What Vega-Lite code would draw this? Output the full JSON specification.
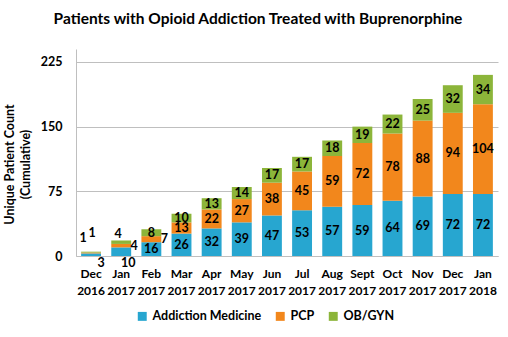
{
  "$schema": "https://vega.github.io/schema/vega-lite/v6.json",
  "width": 422,
  "height": 207,
  "autosize": "none",
  "padding": {"left": 76, "right": 10, "top": 49, "bottom": 81},
  "background": "white",
  "title": {
    "text": "Patients with Opioid Addiction Treated  with Buprenorphine",
    "font": "Lato",
    "fontSize": 15.5,
    "fontWeight": "bold",
    "color": "#000000",
    "anchor": "middle",
    "dx": -29,
    "offset": 22
  },
  "data": {
    "values": [
      {"month": "Dec 2016", "series": "Addiction Medicine", "value": 3},
      {"month": "Dec 2016", "series": "PCP", "value": 1},
      {"month": "Dec 2016", "series": "OB/GYN", "value": 1},
      {"month": "Jan 2017", "series": "Addiction Medicine", "value": 10},
      {"month": "Jan 2017", "series": "PCP", "value": 4},
      {"month": "Jan 2017", "series": "OB/GYN", "value": 4},
      {"month": "Feb 2017", "series": "Addiction Medicine", "value": 16},
      {"month": "Feb 2017", "series": "PCP", "value": 7},
      {"month": "Feb 2017", "series": "OB/GYN", "value": 8},
      {"month": "Mar 2017", "series": "Addiction Medicine", "value": 26},
      {"month": "Mar 2017", "series": "PCP", "value": 13},
      {"month": "Mar 2017", "series": "OB/GYN", "value": 10},
      {"month": "Apr 2017", "series": "Addiction Medicine", "value": 32},
      {"month": "Apr 2017", "series": "PCP", "value": 22},
      {"month": "Apr 2017", "series": "OB/GYN", "value": 13},
      {"month": "May 2017", "series": "Addiction Medicine", "value": 39},
      {"month": "May 2017", "series": "PCP", "value": 27},
      {"month": "May 2017", "series": "OB/GYN", "value": 14},
      {"month": "Jun 2017", "series": "Addiction Medicine", "value": 47},
      {"month": "Jun 2017", "series": "PCP", "value": 38},
      {"month": "Jun 2017", "series": "OB/GYN", "value": 17},
      {"month": "Jul 2017", "series": "Addiction Medicine", "value": 53},
      {"month": "Jul 2017", "series": "PCP", "value": 45},
      {"month": "Jul 2017", "series": "OB/GYN", "value": 17},
      {"month": "Aug 2017", "series": "Addiction Medicine", "value": 57},
      {"month": "Aug 2017", "series": "PCP", "value": 59},
      {"month": "Aug 2017", "series": "OB/GYN", "value": 18},
      {"month": "Sept 2017", "series": "Addiction Medicine", "value": 59},
      {"month": "Sept 2017", "series": "PCP", "value": 72},
      {"month": "Sept 2017", "series": "OB/GYN", "value": 19},
      {"month": "Oct 2017", "series": "Addiction Medicine", "value": 64},
      {"month": "Oct 2017", "series": "PCP", "value": 78},
      {"month": "Oct 2017", "series": "OB/GYN", "value": 22},
      {"month": "Nov 2017", "series": "Addiction Medicine", "value": 69},
      {"month": "Nov 2017", "series": "PCP", "value": 88},
      {"month": "Nov 2017", "series": "OB/GYN", "value": 25},
      {"month": "Dec 2017", "series": "Addiction Medicine", "value": 72},
      {"month": "Dec 2017", "series": "PCP", "value": 94},
      {"month": "Dec 2017", "series": "OB/GYN", "value": 32},
      {"month": "Jan 2018", "series": "Addiction Medicine", "value": 72},
      {"month": "Jan 2018", "series": "PCP", "value": 104},
      {"month": "Jan 2018", "series": "OB/GYN", "value": 34}
    ]
  },
  "transform": [
    {"calculate": "indexof(['Addiction Medicine','PCP','OB/GYN'], datum.series)", "as": "k"},
    {"stack": "value", "groupby": ["month"], "sort": [{"field": "k", "order": "ascending"}], "as": ["y0", "y1"]},
    {"calculate": "(datum.y0 + datum.y1) / 2", "as": "mid"}
  ],
  "encoding": {
    "x": {
      "field": "month",
      "type": "nominal",
      "sort": null,
      "scale": {"paddingInner": 0.34, "paddingOuter": 0.17},
      "axis": {
        "title": null,
        "labelAngle": 0,
        "labelExpr": "split(datum.label, ' ')",
        "labelLineHeight": 17,
        "labelFont": "Lato",
        "labelFontSize": 12,
        "labelFontWeight": "bold",
        "labelColor": "#000000",
        "labelPadding": 12,
        "ticks": false,
        "domainColor": "#bfbfbf",
        "domainWidth": 1
      }
    }
  },
  "layer": [
    {
      "mark": {"type": "bar"},
      "encoding": {
        "y": {
          "field": "y1",
          "type": "quantitative",
          "scale": {"domain": [0, 225]},
          "axis": {
            "values": [0, 75, 150, 225],
            "title": ["Unique Patient Count", "(Cumulative)"],
            "titleFont": "Lato",
            "titleFontSize": 12.5,
            "titleFontWeight": "bold",
            "titleColor": "#000000",
            "titleLineHeight": 16,
            "titlePadding": 8,
            "titleY": 115,
            "labelFont": "Lato",
            "labelFontSize": 12.5,
            "labelFontWeight": "bold",
            "labelColor": "#000000",
            "labelPadding": 14,
            "ticks": false,
            "grid": true,
            "gridColor": "#bfbfbf",
            "domainColor": "#bfbfbf"
          }
        },
        "y2": {"field": "y0"},
        "color": {
          "field": "series",
          "type": "nominal",
          "scale": {
            "domain": ["Addiction Medicine", "PCP", "OB/GYN"],
            "range": ["#27a6d0", "#f2871c", "#8cb53a"]
          },
          "legend": {
            "title": null,
            "orient": "none",
            "direction": "horizontal",
            "legendX": 60,
            "legendY": 261,
            "symbolType": "square",
            "symbolSize": 80,
            "symbolStrokeWidth": 0,
            "labelFont": "Lato",
            "labelFontSize": 12.5,
            "labelFontWeight": "bold",
            "labelColor": "#000000",
            "labelOffset": 4,
            "columnPadding": 12
          }
        }
      }
    },
    {
      "transform": [{"filter": "datum.value >= 8 && datum.month != 'Jan 2017'"}],
      "mark": {"type": "text", "font": "Lato", "fontSize": 12.5, "fontWeight": "bold", "color": "#000000", "baseline": "middle"},
      "encoding": {"y": {"field": "mid", "type": "quantitative"}, "text": {"field": "value"}}
    },
    {
      "transform": [{"filter": "datum.series == 'PCP' && (datum.month == 'Jan 2017' || datum.month == 'Feb 2017')"}],
      "mark": {"type": "text", "font": "Lato", "fontSize": 12.5, "fontWeight": "bold", "color": "#000000", "baseline": "middle", "dx": 13},
      "encoding": {"y": {"field": "mid", "type": "quantitative"}, "text": {"field": "value"}}
    },
    {
      "transform": [{"filter": "datum.series == 'OB/GYN' && datum.month == 'Jan 2017'"}],
      "mark": {"type": "text", "font": "Lato", "fontSize": 12.5, "fontWeight": "bold", "color": "#000000", "baseline": "bottom", "dx": -3, "dy": 1},
      "encoding": {"y": {"field": "y1", "type": "quantitative"}, "text": {"field": "value"}}
    },
    {
      "transform": [{"filter": "datum.series == 'OB/GYN' && datum.month == 'Dec 2016'"}],
      "mark": {"type": "text", "font": "Lato", "fontSize": 12.5, "fontWeight": "bold", "color": "#000000", "baseline": "bottom", "dx": 1, "dy": -12},
      "encoding": {"y": {"field": "y1", "type": "quantitative"}, "text": {"field": "value"}}
    },
    {
      "transform": [{"filter": "datum.series == 'PCP' && datum.month == 'Dec 2016'"}],
      "mark": {"type": "text", "font": "Lato", "fontSize": 12.5, "fontWeight": "bold", "color": "#000000", "baseline": "middle", "dx": -8, "dy": -15},
      "encoding": {"y": {"field": "mid", "type": "quantitative"}, "text": {"field": "value"}}
    },
    {
      "transform": [{"filter": "datum.series == 'Addiction Medicine' && datum.month == 'Dec 2016'"}],
      "mark": {"type": "text", "font": "Lato", "fontSize": 12.5, "fontWeight": "bold", "color": "#000000", "baseline": "top", "dx": 10, "dy": 1},
      "encoding": {"y": {"field": "y0", "type": "quantitative"}, "text": {"field": "value"}}
    },
    {
      "transform": [{"filter": "datum.series == 'Addiction Medicine' && datum.month == 'Jan 2017'"}],
      "mark": {"type": "text", "font": "Lato", "fontSize": 12.5, "fontWeight": "bold", "color": "#000000", "baseline": "top", "dx": 7, "dy": 1},
      "encoding": {"y": {"field": "y0", "type": "quantitative"}, "text": {"field": "value"}}
    }
  ],
  "config": {
    "view": {"stroke": null}
  }
}
